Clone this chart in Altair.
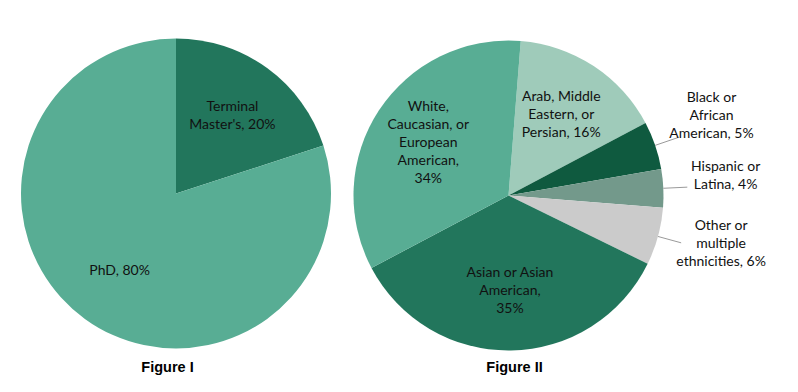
import math
import altair as alt
import pandas as pd

# ---------------- data ----------------
FIG1_CATS = ["Terminal Master's", "PhD"]
FIG1_PREFIX = ["Terminal\nMaster's, ", "PhD, "]
FIG1_VALUES = [20, 80]
FIG1_COLORS = ["#22765C", "#58AD94"]

FIG2_CATS = [
    "Arab, Middle Eastern, or Persian",
    "Black or African American",
    "Hispanic or Latina",
    "Other or multiple ethnicities",
    "Asian or Asian American",
    "White, Caucasian, or European American",
]
FIG2_PREFIX = [
    "Arab, Middle\nEastern, or\nPersian, ",
    "Black or\nAfrican\nAmerican, ",
    "Hispanic or\nLatina, ",
    "Other or\nmultiple\nethnicities, ",
    "Asian or Asian\nAmerican,\n",
    "White,\nCaucasian, or\nEuropean\nAmerican,\n",
]
FIG2_VALUES = [16, 5, 4, 6, 35, 34]
FIG2_COLORS = ["#9FCBBA", "#0F5A3F", "#73998B", "#CBCBCB", "#22765C", "#58AD94"]
FIG2_OUTSIDE = ["Black or African American", "Hispanic or Latina",
                "Other or multiple ethnicities"]

TITLES = ["Figure I", "Figure II"]

# ---------------- layout constants ----------------
C1 = (168, 185.5)
C2 = (500.5, 187.5)
TITLE_X = [159.5, 506.5]
R = 155
R_IN = 96
R_OUT = 218
OFF1 = 0.0
OFF2 = 0.079
FONT = "Lato"
FS = 14
LH = 18
TXT = "#111111"
NL = "length(split(datum.label, '\\n'))"


def frame(cats, prefix, values):
    return pd.DataFrame({
        "cat": cats,
        "label": [p + f"{v}%" for p, v in zip(prefix, values)],
        "value": values,
        "idx": list(range(len(cats))),
    })


df1 = frame(FIG1_CATS, FIG1_PREFIX, FIG1_VALUES)
df2 = frame(FIG2_CATS, FIG2_PREFIX, FIG2_VALUES)


def pie(df, cats, cols, center, off, outside):
    cx, cy = center
    arcs = alt.Chart(df).mark_arc(outerRadius=R).encode(
        theta=alt.Theta("value:Q", stack=True,
                        scale=alt.Scale(domain=[0, 100],
                                        range=[off, off + 2 * math.pi])),
        order=alt.Order("idx:Q"),
        color=alt.Color("cat:N", scale=alt.Scale(domain=cats, range=cols),
                        legend=None),
        x=alt.value(cx), y=alt.value(cy),
    )
    cond = " || ".join([f"datum.cat === {repr(c)}" for c in outside]) or "false"
    polar = alt.Chart(df).transform_window(
        cum="sum(value)", sort=[alt.SortField("idx")], frame=[None, 0]
    ).transform_calculate(
        a=f"{off} + 2*PI*(datum.cum - datum.value/2)/100",
        out=f"({cond}) ? 1 : 0",
    ).transform_calculate(
        la=f"datum.a - datum.out * 0.044",
        lr=f"datum.out ? {R_OUT} : {R_IN}",
    ).transform_calculate(
        xa=f"{cx} + {R}*sin(datum.a)", ya=f"{cy} - {R}*cos(datum.a)",
        xb=f"{cx} + 179*sin(datum.a)", yb=f"{cy} - 179*cos(datum.a)",
        xl=f"{cx} + datum.lr*sin(datum.la)",
        yl=f"{cy} - datum.lr*cos(datum.la) - ({NL} - 1) * {LH} / 2",
    )
    text = polar.mark_text(font=FONT, fontSize=FS, lineHeight=LH,
                           lineBreak="\n", color=TXT, align="center",
                           baseline="middle").encode(
        text="label:N",
        x=alt.X("xl:Q", scale=None), y=alt.Y("yl:Q", scale=None),
    )
    layers = [arcs]
    if outside:
        lead = polar.transform_filter("datum.out == 1").mark_rule(
            color="#9a9a9a", strokeWidth=1).encode(
            x=alt.X("xa:Q", scale=None), y=alt.Y("ya:Q", scale=None),
            x2="xb:Q", y2="yb:Q",
        )
        layers.append(lead)
    layers.append(text)
    return alt.layer(*layers)


fig1 = pie(df1, FIG1_CATS, FIG1_COLORS, C1, OFF1, [])
fig2 = pie(df2, FIG2_CATS, FIG2_COLORS, C2, OFF2, FIG2_OUTSIDE)

tdf = pd.DataFrame({"t": TITLES, "xc": TITLE_X})
titles = alt.Chart(tdf).mark_text(
    font="Liberation Sans", fontSize=14.5, fontWeight="bold", color="#000000",
    align="center", baseline="middle"
).encode(
    text="t:N",
    x=alt.X("xc:Q", scale=None),
    y=alt.value(360),
)

chart = alt.layer(fig1, fig2, titles).resolve_scale(
    theta="independent", color="independent"
).properties(
    width=782, height=376, padding=0, autosize="none"
).configure_view(stroke=None)

chart.save("out.html", embed_options={"renderer": "svg", "actions": False})
